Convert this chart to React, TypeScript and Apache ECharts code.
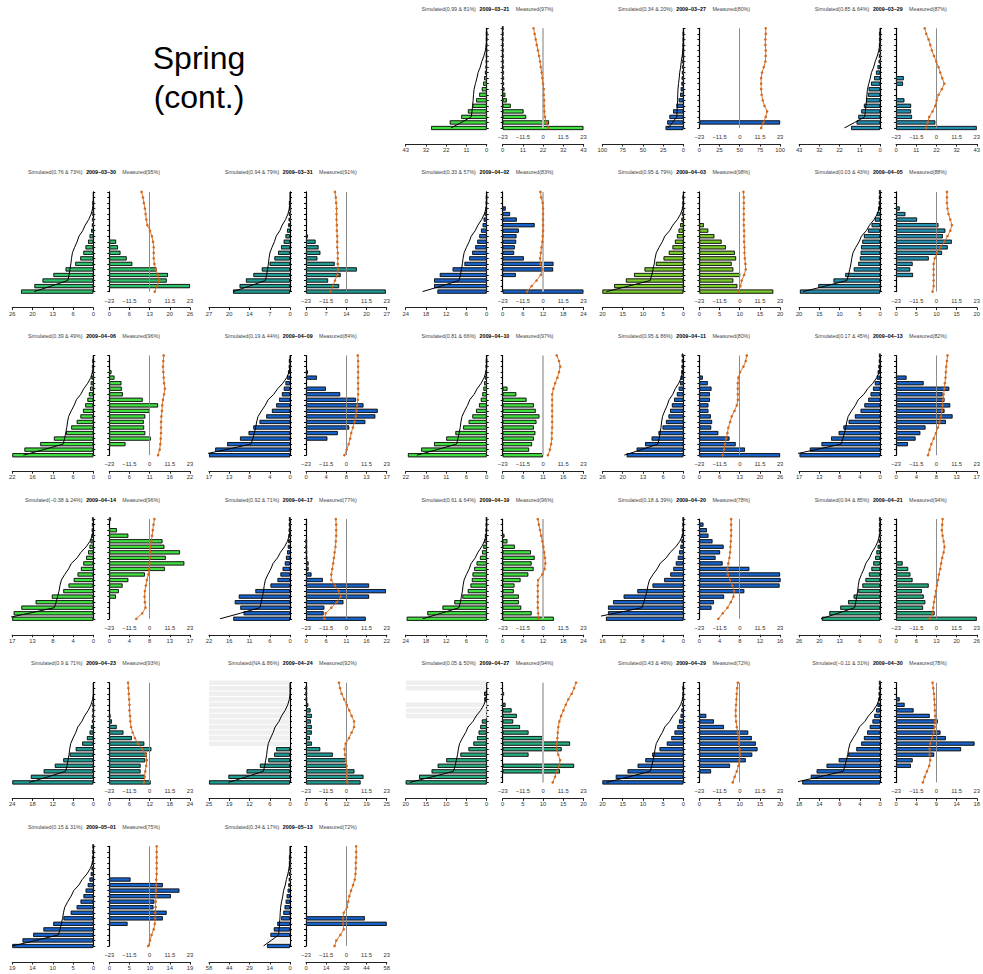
import React, { useEffect, useRef } from "react";
import * as echarts from "echarts";

// ---------- DATA ----------
const dates = [
  "2009−03−21", "2009−03−27", "2009−03−29",
  "2009−03−30", "2009−03−31", "2009−04−02", "2009−04−03", "2009−04−05",
  "2009−04−06", "2009−04−09", "2009−04−10", "2009−04−11", "2009−04−13",
  "2009−04−14", "2009−04−17", "2009−04−19", "2009−04−20", "2009−04−21",
  "2009−04−23", "2009−04−24", "2009−04−27", "2009−04−29", "2009−04−30",
  "2009−05−01", "2009−05−13",
];
const simLabels = [
  "Simulated(0.99 & 81%)", "Simulated(0.34 & 20%)", "Simulated(0.85 & 64%)",
  "Simulated(0.76 & 73%)", "Simulated(0.94 & 79%)", "Simulated(0.33 & 57%)", "Simulated(0.95 & 79%)", "Simulated(0.03 & 43%)",
  "Simulated(0.39 & 49%)", "Simulated(0.19 & 44%)", "Simulated(0.81 & 66%)", "Simulated(0.95 & 86%)", "Simulated(0.17 & 45%)",
  "Simulated(−0.38 & 24%)", "Simulated(0.92 & 71%)", "Simulated(0.61 & 64%)", "Simulated(0.18 & 39%)", "Simulated(0.94 & 85%)",
  "Simulated(0.9 & 71%)", "Simulated(NA & 86%)", "Simulated(0.05 & 50%)", "Simulated(0.43 & 46%)", "Simulated(−0.11 & 31%)",
  "Simulated(0.15 & 31%)", "Simulated(0.34 & 17%)",
];
const measLabels = [
  "Measured(97%)", "Measured(80%)", "Measured(87%)",
  "Measured(95%)", "Measured(91%)", "Measured(83%)", "Measured(98%)", "Measured(88%)",
  "Measured(96%)", "Measured(84%)", "Measured(97%)", "Measured(80%)", "Measured(82%)",
  "Measured(96%)", "Measured(77%)", "Measured(96%)", "Measured(78%)", "Measured(94%)",
  "Measured(93%)", "Measured(92%)", "Measured(94%)", "Measured(72%)", "Measured(78%)",
  "Measured(75%)", "Measured(72%)",
];
const axisMax = [43, 100, 43, 26, 27, 24, 20, 20, 22, 17, 22, 26, 17, 17, 22, 24, 16, 26, 24, 25, 20, 20, 18, 19, 58];

const GREEN = "#41E041", BLUE = "#1763CC", STEEL = "#2290B2", SEA = "#2EC46E", TEAL = "#1F9C94", LIME = "#79CC29", MINT = "#26AD80";
const panelColors = [
  GREEN, BLUE, STEEL,
  SEA, TEAL, BLUE, LIME, STEEL,
  GREEN, BLUE, GREEN, BLUE, BLUE,
  GREEN, BLUE, GREEN, BLUE, MINT,
  TEAL, TEAL, MINT, BLUE, BLUE,
  BLUE, BLUE,
];

// 19 depth levels, listed bottom -> top
const levels = Array.from({ length: 19 }, (_, i) => String(i));

// Simulated bars (bottom -> top), null = NA
const simBars: (number | null)[][] = [
  [29.5, 19.6, 13.5, 10, 7.5, 5.6, 4, 2.6, 1.9, 1.4, 0.9, 0.5, 0.3, 0.2, 0.15, 0.1, 0.1, 0.05, 0],
  [22, 20, 17.3, 12.8, 8.6, 5.8, 4.1, 3.3, 2.5, 2, 1.6, 1.2, 0.8, 0.5, 0.3, 0.2, 0.1, 0.1, 0],
  [15.4, 12.5, 11.6, 10, 8.6, 7.5, 6.5, 6.1, 4.8, 3.2, 2.2, 1.4, 0.7, 0.4, 0.3, 0.2, 0.1, 0.1, 0],
  [23.2, 18.9, 16.3, 12.8, 8.9, 5.8, 4.2, 3.2, 2.5, 1.7, 1.2, 0.7, 0.4, 0.2, 0.1, 0.1, 0.1, 0, 0],
  [19, 16.8, 14.7, 12.2, 9.4, 6.8, 5.2, 4.0, 3.0, 2.1, 1.5, 1.0, 0.6, 0.4, 0.2, 0.1, 0.1, 0, 0],
  [14.6, 15.6, 15.6, 13.9, 10.1, 6.6, 5.2, 4.3, 3.4, 2.8, 2.2, 1.7, 1.2, 0.9, 0.6, 0.3, 0.2, 0.1, 0],
  [20, 17.1, 14.2, 12.2, 9.6, 6.8, 4.9, 3.6, 2.7, 2.1, 1.6, 1.2, 0.8, 0.5, 0.3, 0.2, 0.1, 0.1, 0],
  [19.8, 15.25, 11.5, 8.6, 6.5, 5.4, 5.0, 4.8, 4.7, 4.4, 4.0, 3.0, 2.1, 1.3, 0.8, 0.5, 0.3, 0.2, 0.1],
  [22, 18.7, 14.4, 10.7, 7.4, 6.0, 4.5, 3.5, 2.8, 2.2, 1.6, 1.2, 0.9, 0.7, 0.5, 0.3, 0.2, 0.1, 0],
  [17, 15.7, 13.2, 10.5, 8.7, 7.7, 6.4, 5.0, 3.8, 2.9, 2.3, 1.7, 1.3, 0.95, 0.6, 0.4, 0.2, 0.1, 0],
  [21.4, 17.8, 14.3, 11.0, 8.5, 6.4, 4.9, 3.9, 2.9, 2.1, 1.6, 1.2, 0.9, 0.7, 0.5, 0.3, 0.2, 0.1, 0],
  [18.2, 15, 12.3, 10.2, 8.0, 6.7, 5.6, 4.8, 4.3, 3.7, 3.0, 2.1, 1.5, 1.1, 0.9, 0.7, 0.6, 0.5, 0.5],
  [16.9, 14.75, 12.3, 10.3, 8.7, 7.7, 6.6, 5.3, 4.1, 3.3, 2.5, 2.0, 1.5, 1.1, 0.7, 0.5, 0.35, 0.2, 0.1],
  [17, 16.7, 15.1, 12.1, 8.7, 6.3, 5.2, 4.1, 3.3, 2.6, 2.1, 1.5, 1.1, 0.8, 0.6, 0.4, 0.3, 0.2, 0.15],
  [15.4, 12.6, 13.5, 15.0, 13.9, 9.4, 5.3, 3.4, 2.6, 2.0, 1.4, 1.1, 0.8, 0.6, 0.5, 0.4, 0.3, 0.2, 0.1],
  [23.7, 17.6, 13.1, 9.6, 7.2, 5.6, 4.8, 4.4, 4.2, 3.7, 3.0, 2.0, 1.4, 1.0, 0.7, 0.5, 0.3, 0.2, 0.1],
  [15.3, 14.9, 14.9, 13.9, 11.8, 9.1, 6.1, 3.8, 2.6, 2.0, 1.5, 1.1, 0.85, 0.6, 0.4, 0.3, 0.2, 0.1, 0.05],
  [18.7, 16.3, 12.8, 10.3, 8.5, 7.0, 5.7, 4.7, 3.6, 2.8, 2.2, 1.6, 1.2, 0.8, 0.4, 0.3, 0.2, 0.1, 0.1],
  [24, 18.5, 14.7, 11.4, 8.9, 7.0, 5.2, 3.3, 1.9, 1.1, 0.7, 0.3, 0.2, 0.1, 0.1, 0, 0, 0, 0],
  [25, 19, 13.4, 9.3, 6.7, 4.9, 4.3, null, null, null, null, null, null, null, null, null, null, null, null],
  [20, 16.7, 13.6, 12.1, 10, 6.5, 4.5, 3.3, 2.4, 2.0, 1.6, 1.2, null, null, null, 0.6, 0.65, null, null],
  [20, 16.7, 13.8, 11.3, 9.4, 7.7, 5.9, 4.1, 3.0, 2.2, 1.5, 1.1, 0.7, 0.5, 0.3, 0.2, 0.1, 0.1, 0],
  [17.3, 15.4, 14.1, 11.9, 9.2, 7.1, 5.3, 4.2, 3.6, 2.9, 2.3, 1.7, 1.3, 0.9, 0.6, 0.4, 0.3, 0.2, 0.1],
  [19, 16.6, 14.1, 11.7, 9.4, 7.0, 5.3, 3.9, 3.0, 2.3, 1.8, 1.3, 0.9, 0.6, 0.4, 0.3, 0.2, 0.1, 0.05],
  [16.4, null, 14, 11.6, 9.1, 6.3, 4.8, 3.9, 3.1, 2.4, 1.7, 1.2, 0.7, 0.5, 0.3, 0.2, 0.1, 0, 0],
];

// Measured bars (bottom -> top)
const measBars: number[][] = [
  [43, 24.7, 12.5, 11.1, 4.3, 2.2, 1.4, 0.9, 0.5, 0.4, 0.3, 0.3, 0.2, 0.2, 0.2, 0.1, 0.1, 0.1, 0.1],
  [0, 100, 0, 0, 0, 0, 0, 0, 0, 0, 0, 0, 0, 0, 0, 0, 0, 0, 0],
  [43, 20.9, 8.5, 8, 8, 4.4, 0, 0, 3.7, 4.1, 0, 0, 0, 0, 0, 0, 0, 0, 0],
  [0, 26, 18.5, 18.9, 15.2, 7.4, 5.6, 3.6, 2.8, 2.2, 0, 0, 0, 0, 0, 0, 0, 0, 0],
  [26.7, 11.1, 7.4, 11.6, 17, 9.6, 3.8, 4.8, 4.2, 3.2, 0.6, 0, 0, 0, 0, 0, 0, 0, 0],
  [24, 0, 0, 3.9, 15, 15.1, 6.3, 3.4, 3.6, 4.0, 4.1, 4.8, 9.5, 4.2, 2.2, 0.9, 0, 0, 0],
  [18.3, 9.4, 8.4, 10.1, 8.4, 8.0, 9.1, 8.8, 6.6, 5.5, 3.7, 2.2, 1.1, 0, 0, 0, 0, 0, 0],
  [0, 0, 0, 4.2, 3.5, 4.1, 8.1, 11.4, 12.8, 13.8, 11.6, 12.2, 10.5, 5.2, 2.3, 0.9, 0, 0, 0],
  [0, 0, 4.4, 11.3, 9.8, 9.5, 9.4, 9.8, 11, 13.3, 9.1, 3.7, 3.4, 3.3, 1.4, 0.6, 0, 0, 0],
  [0, 0, 0, 4.5, 6.7, 9.1, 12.5, 14.6, 15.1, 12.1, 10.5, 7.2, 4.2, 0, 2.3, 0.4, 0, 0, 0],
  [11, 7.2, 8.0, 8.5, 8.9, 8.5, 9.2, 10, 9.0, 8.5, 6.5, 3.7, 1.3, 0, 0, 0, 0, 0, 0],
  [26, 14.7, 11.7, 9.7, 6.1, 3.8, 4.1, 3.7, 2.9, 2.9, 3.4, 3.4, 3.9, 2.7, 1.1, 0, 0, 0, 0],
  [0, 0, 2.5, 4.1, 5.1, 6.2, 10.5, 11.9, 10.2, 11.4, 10.2, 9.8, 11.2, 5.8, 2.2, 0, 0, 0, 0],
  [0, 0, 0, 0, 1.4, 2.0, 2.8, 4.0, 7.5, 11.7, 15.8, 11.9, 14.9, 11.6, 11.2, 4.0, 1.6, 0, 0.3],
  [16.3, 4.8, 5.0, 10.2, 17.2, 21.8, 17.2, 4.6, 1.5, 0.7, 0.7, 0.3, 0.2, 0.1, 0.1, 0, 0, 0, 0],
  [15.2, 8.6, 5.5, 4.8, 4.8, 3.3, 3.5, 5.3, 7.6, 9.2, 8.6, 9.5, 8.4, 3.6, 1.4, 0.5, 0, 0, 0],
  [0, 0, 2.4, 2.9, 4.9, 8.9, 15.9, 16.1, 16, 9.9, 4.6, 3.2, 4.1, 4.8, 2.6, 1.8, 1.5, 0.8, 0],
  [26, 12.4, 8.7, 9.4, 8.9, 8.3, 10.5, 5.3, 4.6, 3.9, 2.1, 0, 0, 0, 0, 0, 0, 0, 0],
  [12.3, 10.6, 9.3, 9.3, 10.7, 11.2, 12.5, 10.4, 6.7, 4.2, 2.2, 0.8, 0.3, 0, 0, 0, 0, 0, 0],
  [16.9, 17.8, 15, 12.6, 12.3, 8.3, 4.4, 1.8, 1.2, 1.8, 1.8, 1.5, 1.8, 1.4, 0.7, 0.2, 0.1, 0.1, 0],
  [0, 0, 14.2, 17.7, 0, 6.4, 14.6, 16.7, 9.9, 6.4, 4.3, 2.6, 3.5, 2.2, 0.7, 0, 0.2, 0, 0],
  [0, 0, 2.9, 7.6, 11.5, 13.1, 14.4, 14.0, 13.0, 12.1, 6.1, 3.6, 1.7, 0, 0, 0, 0, 0, 0],
  [0, 0, 0, 3.3, 3.7, 8.5, 14.5, 17.5, 11.1, 9.9, 8.4, 9.3, 7.5, 3.9, 1.9, 0.8, 0, 0, 0],
  [0, 0, 0, 0, 4.3, 12.6, 13.5, 10.4, 10.6, 14.5, 16.5, 12.6, 5.0, 0, 0, 0, 0, 0, 0],
  [0, 0, 0, 0, 58, 42.3, 0, 0, 0, 0, 0, 0, 0, 0, 0, 0, 0, 0, 0],
];

// Measured temperature-like profile (listed TOP -> BOTTOM), on the −23..23 scale
const tempTopDown: number[][] = [
  [-5.4, -4.8, -4.2, -3.6, -2.9, -2.3, -1.7, -1.3, -0.8, -0.4, 0, 0.4, 0.4, 0.6, 0.6, 0.8, 1.1, 1.7, 2.9],
  [14.8, 14.8, 14.6, 14.6, 14.8, 14.8, 14.6, 13.7, 12.7, 12.2, 12.2, 12.2, 12.5, 13.1, 14.1, 15.6, 14.8, 13.5, 12.2],
  [-6.7, -5.8, -4.5, -3.5, -2.6, -1.4, -0.1, 1.2, 2.2, 3.3, 4.5, 3.1, 1.2, 0.1, -0.7, -2.2, -4.1, -5.0, -5.8],
  [-4.6, -3.8, -3.3, -2.7, -2.3, -1.9, -1.3, 0.2, 1.3, 1.9, 2.3, 2.3, 2.3, 2.7, 3.4, 4.6, 5.4, 4.2, 2.9],
  [-6.5, -6.0, -5.8, -5.6, -5.6, -5.6, -5.4, -5.4, -5.2, -5.2, -5.2, -4.9, -4.9, -4.9, -4.7, -5.2, -6.5, -7.7, -9.2],
  [-1.5, -1.1, -0.2, 0, 0, 0, 0, 0, -0.2, -0.4, -0.9, -1.3, -1.7, -1.5, -0.4, -1.3, -3.7, -6.5, -9.1],
  [2.1, 2.3, 2.3, 2.3, 2.3, 2.3, 2.3, 2.5, 2.5, 2.5, 2.7, 2.7, 2.9, 3.2, 3.4, 2.5, 1.1, 0.4, -0.6],
  [6.0, 6.0, 6.0, 6.3, 6.9, 7.9, 8.8, 7.9, 6.3, 4.5, 2.2, 0.3, -1.0, -1.6, -1.6, -1.6, -1.6, -1.6, -2.2],
  [8.0, 7.8, 7.6, 7.8, 8.0, 8.2, 8.7, 8.2, 7.6, 7.2, 7.0, 6.7, 6.5, 6.5, 6.5, 6.3, 6.1, 5.7, 4.8],
  [6.5, 6.7, 6.7, 6.7, 6.7, 6.7, 6.7, 6.7, 6.5, 6.2, 5.8, 5.4, 4.7, 3.7, 2.8, 2.2, 1.3, 0.2, -1.1],
  [7.8, 9.1, 9.8, 9.1, 8.2, 6.9, 5.9, 5.2, 5.2, 5.2, 5.2, 5.2, 5.2, 5.2, 5.0, 5.0, 4.6, 3.9, 2.8],
  [4.0, 3.4, 2.1, 0.2, -0.8, -1.1, -1.1, -1.1, -1.1, -1.7, -3.0, -4.6, -5.5, -6.5, -7.0, -7.8, -8.4, -8.9, -9.7],
  [6.3, 6.0, 5.6, 5.4, 5.2, 4.8, 4.5, 4.1, 3.7, 3.5, 3.1, 2.6, 1.8, 0.9, -0.3, -1.6, -2.9, -3.9, -4.8],
  [2.7, 2.2, 1.8, 1.4, 1.0, 0.5, 0.3, 0.1, -0.1, -0.3, -0.7, -1.6, -2.2, -2.7, -2.9, -2.7, -2.4, -4.2, -7.6],
  [-6.0, -5.8, -5.8, -5.8, -6.0, -6.2, -6.7, -7.1, -7.5, -8.0, -8.6, -8.6, -6.5, -4.3, -3.2, -5.4, -8.6, -11.8, -12.5],
  [-3.0, -2.4, -1.7, -1.1, -0.4, 0.2, 0.7, 1.1, 1.3, 0.9, -0.4, -2.8, -3.0, -3.0, -3.0, -3.0, -3.0, -2.8, -2.6],
  [-4.9, -4.9, -4.9, -4.9, -5.1, -5.3, -5.5, -5.9, -6.5, -7.0, -6.8, -5.5, -4.2, -3.2, -3.6, -5.1, -7.0, -9.7, -12.2],
  [3.5, 3.3, 3.1, 3.5, 4.1, 4.6, 4.1, 3.3, 2.7, 2.2, 1.4, 0.9, 0.3, -0.3, -0.9, -1.4, -1.8, -2.2, -3.9],
  [-12.3, -12.1, -11.9, -11.7, -11.5, -11.5, -11.2, -11.0, -10.6, -9.7, -8.4, -6.7, -4.2, -2.2, -1.6, -2.0, -2.5, -2.9, -3.3],
  [-4.2, -3.6, -2.7, -1.3, 0.2, 1.7, 3.0, 4.4, 4.4, 3.0, 1.5, -0.4, -1.0, -0.8, -0.4, 0.2, 0.4, 0.4, 0.6],
  [18.8, 17.7, 16.3, 14.4, 12.9, 11.6, 10.3, 9.3, 8.7, 8.4, 8.2, 7.8, 7.8, 8.7, 9.7, 9.3, 7.8, 6.8, 5.5],
  [-1.1, -1.5, -1.7, -1.9, -2.1, -2.3, -2.3, -2.1, -1.7, -1.1, -0.8, -0.4, 0, 0.2, -0.2, -0.8, -1.7, -2.9, -4.0],
  [-2.2, -1.8, -1.4, -1.2, -1.0, -0.9, -0.7, -0.7, -1.0, -1.6, -2.6, -3.5, -3.9, -3.9, -3.5, -4.1, -5.4, -6.7, -7.7],
  [4.0, 4.0, 4.0, 4.0, 4.0, 4.0, 3.8, 3.8, 3.6, 3.6, 3.4, 3.4, 3.2, 3.2, 2.9, 2.3, 1.1, 0.2, -0.8],
  [5.6, 5.6, 5.6, 5.4, 5.4, 5.2, 4.8, 3.8, 2.7, 1.7, 1.0, 0.4, -1.5, -1.9, -1.9, -1.5, -3.4, -5.7, -6.7],
];

// Reference simulated profile (black line, bottom -> top), same for every panel
const refProfile = [19, 13.5, 8.2, 7.8, 7.5, 7.2, 7.0, 6.7, 6.0, 5.2, 4.6, 3.4, 2.6, 1.5, 0.7, 0.2, 0, 0, 0];

const tempTickLabels = ["−23", "−11.5", "0", "11.5", "23"];

// ---------- LAYOUT ----------
const COL_W = 196.7;
const ROW_H = 163.6;
const FONT = "Liberation Sans, Arial, Helvetica, sans-serif";
const ORANGE = "#D2691E";

function roundHalfEven(x: number): number {
  const f = Math.floor(x);
  const d = x - f;
  if (Math.abs(d - 0.5) < 1e-9) return f % 2 === 0 ? f : f + 1;
  return Math.round(x);
}

function buildOption() {
  const grid: any[] = [];
  const xAxis: any[] = [];
  const yAxis: any[] = [];
  const series: any[] = [];
  const graphic: any[] = [];

  const valueAxisBase = (gridIndex: number, M: number, inverse: boolean) => ({
    type: "value",
    gridIndex,
    min: 0,
    max: M,
    interval: M / 4,
    inverse,
    position: "bottom",
    offset: 16,
    axisLine: { show: true, onZero: false, lineStyle: { color: "#222", width: 1.2 } },
    axisTick: { show: true, length: 2.5, lineStyle: { color: "#222", width: 1 } },
    axisLabel: {
      fontSize: 5.8,
      color: "#333",
      margin: 3,
      fontFamily: FONT,
      showMinLabel: true,
      showMaxLabel: true,
      formatter: (v: number) => String(roundHalfEven(v)),
    },
    splitLine: { show: false },
  });

  const catAxis = (gridIndex: number, position: string, show: boolean) => ({
    type: "category",
    gridIndex,
    data: levels,
    boundaryGap: false,
    position,
    show,
    axisLine: { show: true, onZero: false, lineStyle: { color: "#000", width: 1.2 } },
    axisTick: { show: true, length: 2, interval: 0, lineStyle: { color: "#000", width: 1 } },
    axisLabel: { show: false },
    splitLine: { show: false },
  });

  dates.forEach((date, p) => {
    const slot = p + 2;
    const row = Math.floor(slot / 5);
    const col = slot % 5;
    const ox = col * COL_W;
    const oy = row * ROW_H;
    const M = axisMax[p];
    const top = oy + 28.3;
    const h = 99.7;
    const color = panelColors[p];
    const sim = simBars[p];
    const meas = measBars[p];
    const temp = tempTopDown[p].slice().reverse();
    const simMax = Math.max(...sim.filter((v) => v !== null).map((v) => v as number));

    const gL = grid.length;
    grid.push({ left: ox + 12.3, top, width: 81, height: h });
    const gR = grid.length;
    grid.push({ left: ox + 109.3, top, width: 80.7, height: h });

    const xL = xAxis.length;
    xAxis.push(valueAxisBase(gL, M, true));
    const xR = xAxis.length;
    xAxis.push(valueAxisBase(gR, M, false));
    const xT = xAxis.length;
    xAxis.push({
      type: "value",
      gridIndex: gR,
      min: -23,
      max: 23,
      interval: 11.5,
      position: "bottom",
      offset: 4,
      axisLine: { show: false, onZero: false },
      axisTick: { show: false },
      axisLabel: {
        fontSize: 5.8,
        color: "#333",
        margin: 2,
        fontFamily: FONT,
        showMinLabel: true,
        showMaxLabel: true,
        formatter: (v: number) => tempTickLabels[Math.round((v + 23) / 11.5)] ?? "",
      },
      splitLine: { show: false },
    });

    const yL = yAxis.length;
    yAxis.push(catAxis(gL, "right", true));
    const yNA = yAxis.length;
    yAxis.push(catAxis(gL, "right", false));
    const yR = yAxis.length;
    yAxis.push(catAxis(gR, "left", true));

    const simData = sim.map((v) => (v === null || v === 0 ? "-" : v));
    const measData = meas.map((v) => (v === 0 ? "-" : v));

    // NA bands
    if (sim.some((v) => v === null)) {
      series.push({
        type: "bar",
        xAxisIndex: xL,
        yAxisIndex: yNA,
        data: sim.map((v) => (v === null ? simMax : "-")),
        barWidth: 4.5,
        clip: false,
        silent: true,
        z: 1,
        itemStyle: { color: "#EFEFEF" },
      });
    }
    // left: halo + bars
    series.push({
      type: "bar",
      xAxisIndex: xL,
      yAxisIndex: yL,
      data: simData,
      barWidth: 4.2,
      barGap: "-100%",
      clip: false,
      silent: true,
      z: 2,
      itemStyle: { color: "#8a8a8a", borderColor: "rgba(130,130,130,0.85)", borderWidth: 2.4 },
    });
    series.push({
      type: "bar",
      xAxisIndex: xL,
      yAxisIndex: yL,
      data: simData,
      barWidth: 4.2,
      barGap: "-100%",
      clip: false,
      silent: true,
      z: 3,
      itemStyle: { color, borderColor: "#111", borderWidth: 0.9 },
    });
    series.push({
      type: "line",
      xAxisIndex: xL,
      yAxisIndex: yL,
      data: refProfile.map((v, i) => [v, i]),
      showSymbol: false,
      symbol: "none",
      clip: true,
      silent: true,
      z: 4,
      lineStyle: { color: "#000", width: 1 },
    });

    // right: halo + bars
    series.push({
      type: "bar",
      xAxisIndex: xR,
      yAxisIndex: yR,
      data: measData,
      barWidth: 4.2,
      barGap: "-100%",
      clip: false,
      silent: true,
      z: 2,
      itemStyle: { color: "#8a8a8a", borderColor: "rgba(130,130,130,0.85)", borderWidth: 2.4 },
    });
    series.push({
      type: "bar",
      xAxisIndex: xR,
      yAxisIndex: yR,
      data: measData,
      barWidth: 4.2,
      barGap: "-100%",
      clip: false,
      silent: true,
      z: 3,
      itemStyle: { color, borderColor: "#111", borderWidth: 0.9 },
    });
    const wideZero = col === 2;
    series.push({
      type: "line",
      xAxisIndex: xT,
      yAxisIndex: yR,
      data: temp.map((t, i) => [t, i]),
      symbol: "circle",
      symbolSize: 2.6,
      showSymbol: true,
      clip: false,
      silent: true,
      z: 5,
      itemStyle: { color: ORANGE },
      lineStyle: { color: ORANGE, width: 0.9 },
      markLine: {
        silent: true,
        symbol: ["none", "none"],
        label: { show: false },
        lineStyle: wideZero
          ? { color: "#bdbdbd", width: 2, type: "solid" }
          : { color: "#8c8c8c", width: 1, type: "solid" },
        data: [{ xAxis: 0 }],
      },
    });

    // titles
    const ty = oy + 8.7;
    graphic.push({
      type: "text",
      x: ox + 82.5,
      y: ty,
      silent: true,
      style: { text: simLabels[p], fill: "#444", font: `5.3px ${FONT}`, textAlign: "right", align: "right", textVerticalAlign: "middle", verticalAlign: "middle" },
    });
    graphic.push({
      type: "text",
      x: ox + 101,
      y: ty,
      silent: true,
      style: { text: date, fill: "#000", font: `bold 5.3px ${FONT}`, textAlign: "center", align: "center", textVerticalAlign: "middle", verticalAlign: "middle" },
    });
    graphic.push({
      type: "text",
      x: ox + 122.3,
      y: ty,
      silent: true,
      style: { text: measLabels[p], fill: "#444", font: `5.3px ${FONT}`, textAlign: "left", align: "left", textVerticalAlign: "middle", verticalAlign: "middle" },
    });
  });

  graphic.push({
    type: "text",
    x: 199,
    y: 58,
    silent: true,
    style: { text: "Spring", fill: "#000", font: `32px ${FONT}`, textAlign: "center", align: "center", textVerticalAlign: "middle", verticalAlign: "middle" },
  });
  graphic.push({
    type: "text",
    x: 199,
    y: 97,
    silent: true,
    style: { text: "(cont.)", fill: "#000", font: `32px ${FONT}`, textAlign: "center", align: "center", textVerticalAlign: "middle", verticalAlign: "middle" },
  });

  return {
    animation: false,
    backgroundColor: "#ffffff",
    textStyle: { fontFamily: FONT },
    grid,
    xAxis,
    yAxis,
    series,
    graphic,
  };
}

export default function App() {
  const ref = useRef<HTMLDivElement>(null);
  useEffect(() => {
    document.body.style.margin = "0";
    if (!ref.current) return;
    const chart = echarts.init(ref.current, undefined, { renderer: "svg" });
    chart.setOption(buildOption() as any);
    return () => chart.dispose();
  }, []);
  return <div ref={ref} style={{ width: 983, height: 974 }} />;
}
